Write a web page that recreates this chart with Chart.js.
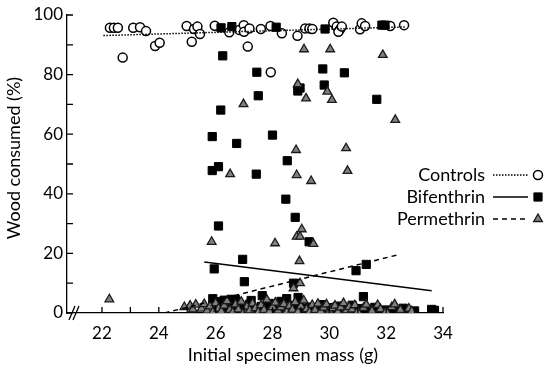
<!DOCTYPE html>
<html>
<head>
<meta charset="utf-8">
<script src="https://cdn.jsdelivr.net/npm/chart.js@4.4.1/dist/chart.umd.min.js"></script>
<style>
  html, body { margin: 0; padding: 0; background: #fff; }
  #wrap { width: 548px; height: 368px; }
</style>
</head>
<body>
<div id="wrap"><canvas id="chart"></canvas></div>
<script>
const FONT = 'Lato, "Open Sans", sans-serif';

const X_TICKS = [22, 23, 24, 25, 26, 27, 28, 29, 30, 31, 32, 33, 34];
const X_LABELS = [22, 24, 26, 28, 30, 32, 34];
const Y_TICKS = [0, 10, 20, 30, 40, 50, 60, 70, 80, 90, 100];
const Y_LABELS = [0, 20, 40, 60, 80, 100];

const SERIES = ['Controls', 'Bifenthrin', 'Permethrin'];

// [initial mass (g), wood consumed (%)]
const controls = [
  [22.28, 95.7], [22.42, 95.7], [22.56, 95.7], [22.73, 85.7], [23.10, 95.7], [23.34, 95.9],
  [23.55, 94.6], [23.87, 89.6], [24.03, 90.7], [24.98, 96.3], [25.16, 91.0], [25.24, 95.3],
  [25.36, 96.1], [25.45, 93.6], [25.97, 96.4], [26.48, 94.2], [26.83, 95.0], [26.99, 96.6],
  [27.00, 94.4], [27.13, 89.4], [27.19, 95.5], [27.59, 95.3], [27.93, 96.3], [27.94, 80.8],
  [28.33, 93.9], [28.88, 93.0], [29.15, 95.5], [29.30, 95.5], [29.40, 95.3], [30.14, 97.4],
  [30.26, 96.1], [30.38, 95.2], [30.32, 94.4], [30.44, 96.1], [31.08, 95.2], [31.14, 97.2],
  [31.26, 96.3], [32.14, 96.3], [32.63, 96.6]
];

const bifenthrin = [
  [26.19, 95.7], [26.57, 96.1], [26.25, 86.3], [27.45, 80.8], [27.50, 72.9], [28.13, 95.9],
  [28.89, 74.5], [28.97, 75.5], [26.18, 68.1], [25.88, 59.2], [26.74, 56.9], [28.00, 59.7],
  [28.52, 51.1], [25.88, 47.8], [26.10, 49.1], [27.43, 46.6], [28.47, 38.2], [28.80, 32.1],
  [26.10, 29.2], [29.29, 23.9], [26.95, 18.0], [25.95, 14.8], [27.01, 10.5], [27.64, 5.8],
  [28.74, 10.0], [30.94, 14.2], [31.30, 16.3], [29.77, 81.9], [29.82, 76.5], [29.85, 95.3],
  [30.53, 80.6], [31.67, 71.7], [31.85, 96.6], [31.96, 96.6],
  [25.9, 4.8], [26.0, 1.2], [26.1, 0.5], [26.2, 3.5], [26.3, 4.3], [26.4, 1.0], [26.5, 0.3],
  [26.6, 2.5], [26.7, 4.5], [26.8, 0.8], [26.9, 1.8], [27.0, 0.2], [27.2, 3.0], [27.3, 1.0],
  [27.5, 0.4], [27.6, 2.2], [27.8, 0.9], [27.9, 3.2], [28.1, 0.5], [28.2, 1.6], [28.4, 0.2],
  [28.5, 4.8], [28.6, 1.1], [28.7, 2.6], [28.8, 0.4], [28.9, 5.2], [29.0, 1.5], [29.1, 0.3],
  [29.3, 2.0], [29.4, 0.6], [29.6, 1.3], [29.7, 2.8], [29.9, 0.5], [30.0, 1.8], [30.2, 0.8],
  [30.3, 2.3], [30.5, 0.3], [30.6, 1.4], [30.8, 2.6], [30.9, 0.6], [31.1, 1.5], [31.2, 5.5],
  [31.4, 0.7], [31.6, 1.9], [31.8, 0.4], [32.0, 1.0], [32.3, 0.5], [32.6, 1.6], [33.0, 0.7],
  [33.6, 1.2], [33.7, 0.9], [26.05, 3.8], [26.55, 4.6], [27.25, 4.2], [28.3, 3.9], [28.95, 3.4]
];

const permethrin = [
  [22.26, 4.6], [29.11, 88.5], [28.89, 76.8], [29.18, 72.0], [26.98, 70.1], [30.03, 88.5],
  [31.88, 86.6], [29.93, 74.3], [30.09, 71.5], [28.83, 54.7], [30.59, 55.3], [26.51, 46.6],
  [28.85, 46.3], [29.36, 44.3], [30.64, 47.7], [32.32, 64.8], [25.86, 23.9], [28.09, 23.4],
  [29.03, 28.1], [28.85, 25.6], [28.97, 25.6], [29.44, 23.2], [28.95, 17.4], [28.97, 10.0],
  [28.74, 8.3],
  [24.9, 2.0], [25.1, 2.5], [25.2, 1.2], [25.3, 2.8], [25.5, 1.5], [25.6, 3.0], [25.7, 0.8],
  [25.8, 2.2], [25.9, 0.3], [26.0, 3.3], [26.1, 1.5], [26.2, 0.6], [26.3, 2.5], [26.4, 4.0],
  [26.5, 1.0], [26.6, 0.2], [26.7, 2.9], [26.8, 1.2], [26.9, 3.8], [27.0, 0.5], [27.1, 2.1],
  [27.2, 0.9], [27.3, 3.2], [27.4, 1.6], [27.5, 0.3], [27.6, 2.6], [27.7, 1.0], [27.8, 4.5],
  [27.9, 0.6], [28.0, 2.0], [28.1, 3.5], [28.2, 0.8], [28.3, 1.9], [28.4, 3.0], [28.5, 0.4],
  [28.6, 2.4], [28.7, 1.1], [28.8, 3.6], [28.9, 0.5], [29.0, 2.2], [29.1, 4.2], [29.2, 1.3],
  [29.3, 0.3], [29.4, 2.7], [29.5, 1.0], [29.6, 3.1], [29.7, 0.6], [29.8, 1.8], [29.9, 2.9],
  [30.0, 0.8], [30.1, 1.6], [30.2, 2.5], [30.3, 0.4], [30.4, 1.9], [30.5, 3.3], [30.6, 0.9],
  [30.7, 2.0], [30.8, 1.2], [30.9, 2.6], [31.0, 0.5], [31.2, 1.7], [31.3, 2.8], [31.5, 0.7],
  [31.7, 2.7], [31.8, 1.3], [32.0, 0.6], [32.2, 2.0], [32.3, 2.9], [32.5, 1.0], [32.8, 1.5],
  [32.9, 0.6]
];

// fitted lines, end points
const controlsFit = [[22.05, 93.1], [32.7, 96.0]];
const bifenthrinFit = [[25.6, 17.1], [33.6, 7.5]];
const permethrinFit = [[24.2, 0.0], [32.4, 19.5]];

const toXY = (arr) => arr.map(([x, y]) => ({ x, y }));

const markers = [
  { pointStyle: 'circle', radius: 4.5, backgroundColor: '#ffffff', borderColor: '#000000', borderWidth: 1.5 },
  { pointStyle: 'rect', radius: 5.8, backgroundColor: '#000000', borderColor: '#000000', borderWidth: 1 },
  { pointStyle: 'triangle', radius: 5, backgroundColor: '#808080', borderColor: '#1a1a1a', borderWidth: 1.3 },
];
const dashes = [[1.5, 1.5], [], [5, 4]];

const scatterSet = (label, data, m, order) => ({
  type: 'scatter',
  label,
  data: toXY(data),
  order,
  pointStyle: m.pointStyle,
  pointRadius: m.radius,
  pointBackgroundColor: m.backgroundColor,
  pointBorderColor: m.borderColor,
  pointBorderWidth: m.borderWidth,
});

const fitSet = (label, data, dash) => ({
  type: 'line',
  label,
  data: toXY(data),
  order: 0,
  borderColor: '#000',
  borderWidth: 1.5,
  borderDash: dash,
  pointRadius: 0,
  fill: false,
});

const decor = {
  id: 'decor',
  afterDraw(chart) {
    const { ctx, chartArea: a, scales: { x, y } } = chart;
    ctx.save();
    ctx.strokeStyle = '#000';
    ctx.lineWidth = 1.3;
    ctx.beginPath();
    X_TICKS.forEach((v) => {
      const px = x.getPixelForValue(v);
      ctx.moveTo(px, a.bottom);
      ctx.lineTo(px, a.bottom - 6);
    });
    Y_TICKS.forEach((v) => {
      const py = y.getPixelForValue(v);
      ctx.moveTo(a.left, py);
      ctx.lineTo(a.left + 6, py);
    });
    // axis break
    ctx.moveTo(a.left + 2, a.bottom + 7);
    ctx.lineTo(a.left + 8, a.bottom - 7);
    ctx.moveTo(a.left + 6, a.bottom + 7);
    ctx.lineTo(a.left + 12, a.bottom - 7);
    ctx.stroke();

    // axis titles
    ctx.fillStyle = '#000';
    ctx.font = '18px ' + FONT;
    ctx.textAlign = 'center';
    ctx.textBaseline = 'middle';
    ctx.fillText('Initial specimen mass (g)', 283, 355);
    ctx.save();
    ctx.translate(14, 158);
    ctx.rotate(-Math.PI / 2);
    ctx.fillText('Wood consumed (%)', 0, 0);
    ctx.restore();

    // legend
    const rows = [175, 197, 219];
    SERIES.forEach((name, i) => {
      const ry = rows[i];
      ctx.textAlign = 'right';
      ctx.fillStyle = '#000';
      ctx.fillText(name, 485, ry);
      ctx.beginPath();
      ctx.setLineDash(dashes[i]);
      ctx.lineWidth = 1.5;
      ctx.moveTo(493, ry);
      ctx.lineTo(528, ry);
      ctx.stroke();
      ctx.setLineDash([]);
      const m = markers[i];
      ctx.fillStyle = m.backgroundColor;
      ctx.strokeStyle = m.borderColor;
      ctx.lineWidth = m.borderWidth;
      Chart.helpers.drawPoint(ctx, { pointStyle: m.pointStyle, radius: m.radius, rotation: 0, borderWidth: m.borderWidth }, 538, ry);
      ctx.strokeStyle = '#000';
    });
    ctx.restore();
  },
};

new Chart(document.getElementById('chart'), {
  data: {
    datasets: [
      fitSet('Controls fit', controlsFit, dashes[0]),
      fitSet('Bifenthrin fit', bifenthrinFit, dashes[1]),
      fitSet('Permethrin fit', permethrinFit, dashes[2]),
      scatterSet(SERIES[2], permethrin, markers[2], 1),
      scatterSet(SERIES[1], bifenthrin, markers[1], 2),
      scatterSet(SERIES[0], controls, markers[0], 3),
    ],
  },
  options: {
    responsive: true,
    maintainAspectRatio: false,
    animation: false,
    layout: { padding: { top: 15, right: 105, left: 0, bottom: 0 } },
    plugins: {
      legend: { display: false },
      tooltip: { enabled: false },
    },
    scales: {
      x: {
        type: 'linear',
        min: 20.77,
        max: 34,
        afterBuildTicks: (s) => { s.ticks = X_TICKS.map((v) => ({ value: v })); },
        afterFit: (s) => { s.height = 55; },
        grid: { display: false, drawTicks: false },
        border: { display: true, color: '#000', width: 1.3 },
        ticks: {
          autoSkip: false,
          maxRotation: 0,
          padding: 10,
          color: '#000',
          font: { family: FONT, size: 17 },
          callback: (v) => (X_LABELS.includes(v) ? String(v) : ''),
        },
      },
      y: {
        min: 0,
        max: 100,
        afterBuildTicks: (s) => { s.ticks = Y_TICKS.map((v) => ({ value: v })); },
        afterFit: (s) => { s.width = 67; },
        grid: { display: false, drawTicks: false },
        border: { display: true, color: '#000', width: 1.3 },
        ticks: {
          autoSkip: false,
          padding: 4,
          color: '#000',
          font: { family: FONT, size: 17 },
          callback: (v) => (Y_LABELS.includes(v) ? String(v) : ''),
        },
      },
    },
  },
  plugins: [decor],
});
</script>
</body>
</html>
